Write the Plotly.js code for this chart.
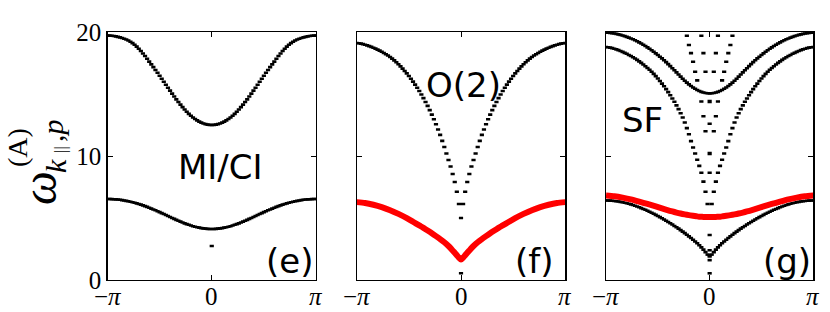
<!DOCTYPE html>
<html><head><meta charset="utf-8">
<script src="https://cdn.plot.ly/plotly-3.0.1.min.js"></script>
<style>html,body{margin:0;padding:0;background:#fff;} #chart{width:830px;height:312px;}</style>
</head><body><div id="chart"></div>
<script>
// lattice momenta k = 2*pi*n/L, values given for n = 0..50 (curves are symmetric in k)
const L = 100;
const nHalf = [0,1,2,3,4,5,6,7,8,9,10,11,12,13,14,15,16,17,18,19,20,21,22,23,24,25,26,27,28,29,30,31,32,33,34,35,36,37,38,39,40,41,42,43,44,45,46,47,48,49,50];

// panel (e) MI/CI
const e1 = [12.50,12.51,12.53,12.57,12.62,12.69,12.77,12.87,12.98,13.11,
13.25,13.40,13.57,13.75,13.94,14.14,14.35,14.57,14.80,15.03,
15.27,15.51,15.75,15.99,16.23,16.47,16.71,16.94,17.17,17.39,
17.61,17.84,18.06,18.27,18.47,18.65,18.82,18.97,19.10,19.21,
19.31,19.39,19.46,19.52,19.57,19.61,19.65,19.68,19.70,19.71,19.72];
const e2 = [4.11,4.11,4.12,4.14,4.16,4.18,4.22,4.25,4.29,4.34,
4.39,4.45,4.51,4.57,4.64,4.71,4.78,4.85,4.93,5.00,
5.08,5.16,5.24,5.32,5.39,5.47,5.55,5.62,5.69,5.76,
5.83,5.90,5.96,6.02,6.08,6.13,6.18,6.23,6.27,6.31,
6.35,6.38,6.41,6.44,6.47,6.49,6.50,6.51,6.52,6.53,6.53];
const eDotN = [0];
const eDotW = [2.74];

// panel (f) O(2)
const f1 = [5.00,6.13,7.12,7.90,8.55,9.15,9.68,10.20,10.72,11.22,
11.70,12.14,12.56,12.96,13.34,13.70,14.04,14.36,14.67,14.96,
15.24,15.51,15.76,16.00,16.23,16.45,16.66,16.86,17.05,17.23,
17.40,17.56,17.71,17.85,17.98,18.10,18.21,18.31,18.41,18.50,
18.58,18.66,18.73,18.80,18.86,18.92,18.97,19.02,19.06,19.09,19.11];
const fDotN = [0];
const fDotW = [0.54];

// panel (g) SF
const g1 = [15.05,15.06,15.08,15.12,15.17,15.24,15.32,15.42,15.53,15.65,
15.78,15.92,16.07,16.23,16.40,16.57,16.74,16.91,17.08,17.25,
17.41,17.57,17.72,17.87,18.01,18.15,18.28,18.41,18.53,18.65,
18.76,18.87,18.97,19.07,19.16,19.25,19.33,19.41,19.48,19.55,
19.61,19.67,19.72,19.77,19.81,19.85,19.88,19.91,19.93,19.94,19.95];
const g2 = [5.00,6.13,7.12,7.93,8.65,9.20,9.70,10.20,10.68,11.20,
11.75,12.25,12.70,13.10,13.45,13.78,14.08,14.37,14.64,14.90,
15.15,15.39,15.62,15.84,16.05,16.25,16.44,16.62,16.79,16.95,
17.10,17.24,17.38,17.51,17.63,17.75,17.86,17.96,18.06,18.15,
18.24,18.32,18.40,18.47,18.54,18.60,18.65,18.70,18.74,18.77,18.79];
const g3 = [1.90,2.05,2.25,2.45,2.63,2.80,2.96,3.11,3.25,3.39,
3.52,3.65,3.78,3.90,4.02,4.14,4.25,4.36,4.47,4.58,
4.68,4.78,4.88,4.98,5.07,5.16,5.25,5.34,5.42,5.50,
5.58,5.66,5.73,5.80,5.87,5.93,5.99,6.05,6.10,6.15,
6.19,6.23,6.27,6.30,6.33,6.35,6.37,6.39,6.40,6.41,6.41];
const gDotN = [-11,11,-10,10,-9,9,-8,8,-7,7,-6,6,-4,4,-3,3,-2,2,-4,4,-3,3,-2,2,0,0,0,0,0,0,0];
const gDotW = [19.7,19.7,18.95,18.95,18.3,18.3,17.6,17.6,16.8,16.8,16.1,16.1,14.4,14.4,13.2,13.2,12.0,12.0,19.7,19.7,18.3,18.3,16.8,16.8,12.6,8.65,3.63,2.4,2.0,1.6,0.54];
const gBoldN = [0,0];
const gBoldW = [14.4,10.2];

// red (highlighted) branches
const nRed = [0,1,2,3,4,5,6,8,10,12,14,16,18,20,23,26,30,34,38,42,46,50];
const fRed = [1.65,1.80,2.00,2.20,2.38,2.57,2.74,3.04,3.30,3.54,3.77,3.99,4.20,4.40,4.70,4.99,5.33,5.63,5.88,6.07,6.21,6.28];
const gRed = [5.08,5.08,5.09,5.09,5.10,5.11,5.13,5.18,5.23,5.29,5.36,5.44,5.53,5.62,5.77,5.93,6.13,6.32,6.50,6.64,6.75,6.82];

// tick labels
const xTickText = ['\u2212<i>\u03c0</i>','0','<i>\u03c0</i>'];
const yTickVals = [0,10,20];

const PI = Math.PI;
const xTickVals = [-PI,0,PI];
function kOf(n){ return 2*PI*n/L; }
function mirror(ns, half){
  const xs=[], ys=[];
  for(let i=ns.length-1;i>0;i--){ xs.push(kOf(-ns[i])); ys.push(half[i]); }
  for(let i=0;i<ns.length;i++){ xs.push(kOf(ns[i])); ys.push(half[i]); }
  return {xs, ys};
}
function dash(xs, ys, ax, w){
  return {x:xs, y:ys, xaxis:'x'+ax, yaxis:'y'+ax, type:'scatter', mode:'markers',
    marker:{symbol:'line-ew', size:3, color:'black', line:{color:'black', width:w||2.6}},
    hoverinfo:'skip', showlegend:false};
}
function curve(half, ax){ const m = mirror(nHalf, half); return dash(m.xs, m.ys, ax); }
function red(half, ax){
  const m = mirror(nRed, half);
  return {x:m.xs, y:m.ys, xaxis:'x'+ax, yaxis:'y'+ax, type:'scatter', mode:'lines',
    line:{color:'#ff0000', width:6, shape:'spline', smoothing:0.6}, hoverinfo:'skip', showlegend:false};
}
const traces = [
  curve(e1,''), curve(e2,''), dash(eDotN.map(kOf), eDotW, ''),
  curve(f1,'2'), dash(fDotN.map(kOf), fDotW, '2'),
  curve(g1,'3'), curve(g2,'3'), curve(g3,'3'),
  dash(gDotN.map(kOf), gDotW, '3'), dash(gBoldN.map(kOf), gBoldW, '3', 3.6),
  red(fRed,'2'), red(gRed,'3')
];

const W=830, H=312, TOP=32, BOT=280;
const px = x => x/W, py = y => (BOT - y)/(BOT-TOP);
const tickFont = {family:'Liberation Serif', size:25, color:'black'};
function xax(dom, anchor){
  return {domain:dom, range:[-PI,PI], anchor:anchor, showgrid:false, zeroline:false,
    showline:true, linecolor:'black', linewidth:1.2, mirror:'ticks', ticks:'inside',
    ticklen:5, tickwidth:1, tickcolor:'black', tickvals:xTickVals, showticklabels:false};
}
function yax(anchor, labels){
  return {domain:[0,1], range:[0,20], anchor:anchor, showgrid:false, zeroline:false,
    showline:true, linecolor:'black', linewidth:1.2, mirror:'ticks', ticks:'inside',
    ticklen:5, tickwidth:1, tickcolor:'black', tickvals:yTickVals,
    showticklabels:labels, tickfont:tickFont};
}
const lab = (t, x, y, size) => ({text:t, x:px(x), y:py(y), xref:'paper', yref:'paper',
  showarrow:false, xanchor:'center', yanchor:'middle',
  font:{family:'DejaVu Sans', size:size||34, color:'black'}});
const serif = (t, x, y, size) => ({text:t, x:px(x), y:py(y), xref:'paper', yref:'paper',
  showarrow:false, xanchor:'center', yanchor:'middle', textangle:-90, borderpad:0,
  font:{family:'Liberation Serif', size:size, color:'black'}});

const annotations = [
  lab('MI/CI', 220, 167), lab('(e)', 289, 261),
  lab('O(2)', 463, 85), lab('(f)', 534, 261),
  lab('SF', 642, 120), lab('(g)', 787, 261),
  serif('<i>\u03c9</i>', 39, 188, 48),
  serif('(A)', 17, 148, 28),
  serif('<i>k</i>', 55, 166, 30),
  serif('||', 60, 150, 17),
  serif(',<i>p</i>', 52, 131, 30)
];
// x tick labels drawn as annotations at each axis' tick values
['', '2', '3'].forEach(ax => {
  xTickVals.forEach((v, i) => annotations.push({text:xTickText[i], x:v, y:py(311),
    xref:'x'+ax, yref:'paper', showarrow:false, xanchor:'center', yanchor:'bottom',
    borderpad:0, font:tickFont}));
});

const layout = {
  width:W, height:H, margin:{l:0, r:0, t:TOP, b:H-BOT, pad:0},
  paper_bgcolor:'white', plot_bgcolor:'white', showlegend:false,
  xaxis: xax([107.5/W, 316/W], 'y'),
  xaxis2: xax([356.7/W, 565.3/W], 'y2'),
  xaxis3: xax([606/W, 813.3/W], 'y3'),
  yaxis: yax('x', true),
  yaxis2: yax('x2', false),
  yaxis3: yax('x3', false),
  annotations: annotations
};
Plotly.newPlot('chart', traces, layout, {staticPlot:true, displayModeBar:false});
</script></body></html>
